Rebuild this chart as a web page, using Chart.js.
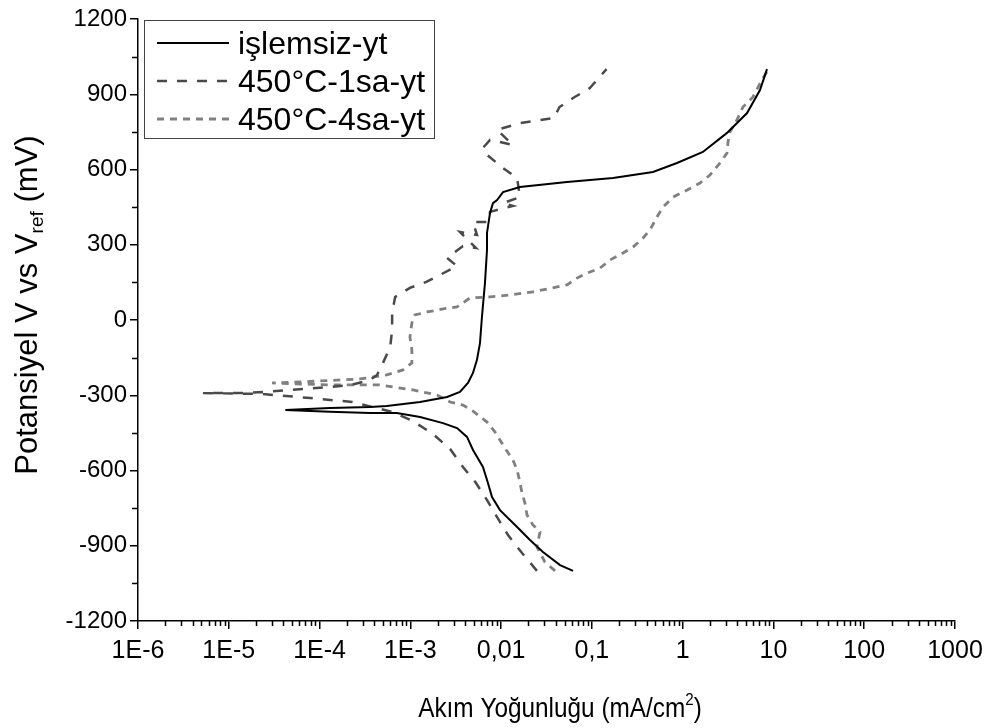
<!DOCTYPE html>
<html>
<head>
<meta charset="utf-8">
<script src="https://cdn.jsdelivr.net/npm/chart.js@4.4.1/dist/chart.umd.min.js"></script>
<style>
    html, body { margin: 0; padding: 0; background: #fff; }
    #contenedor { width: 993px; height: 728px; }
</style>
</head>
<body>
<div id="contenedor"><canvas id="graficoTafel"></canvas></div>
<script>
// Etiquetas de las series y de los ejes
const etiquetas = ['işlemsiz-yt', '450°C-1sa-yt', '450°C-4sa-yt'];
const xTickValores = [1e-6, 1e-5, 1e-4, 1e-3, 1e-2, 1e-1, 1, 10, 100, 1000];
const xTickEtiquetas = ['1E-6', '1E-5', '1E-4', '1E-3', '0,01', '0,1', '1', '10', '100', '1000'];

// işlemsiz-yt (mA/cm2, mV)
const islemsizX = [0.062, 0.0446, 0.0289, 0.0208, 0.0150, 0.00972, 0.00794, 0.00716, 0.00631, 0.00490,
    0.00421, 0.00327, 0.00229, 0.00128, 0.00071, 0.00036, 0.00013, 0.000042, 0.00013, 0.00036,
    0.00055, 0.00128, 0.00254, 0.00352, 0.00431, 0.00490, 0.00542, 0.00585, 0.00615, 0.00664,
    0.00699, 0.00699, 0.00755, 0.00813, 0.00902, 0.0105, 0.0161, 0.0532, 0.171, 0.471,
    0.866, 1.67, 3.08, 5.12, 7.11, 8.49];
const islemsizY = [-1000, -977, -925, -877, -825, -758, -706, -650, -586, -518,
    -466, -431, -411, -387, -371, -371, -366, -359, -351, -347,
    -343, -327, -307, -287, -251, -211, -159, -92, 12, 148,
    279, 347, 427, 466, 478, 510, 530, 550, 566, 590,
    626, 670, 746, 825, 917, 1000];

// 450°C-1sa-yt
const sa1X = [0.0248, 0.017, 0.0119, 0.0090, 0.0070, 0.0052, 0.0038, 0.00274, 0.00178, 0.00107,
    0.00064, 0.00023, 0.000079, 0.000023, 0.0000052, 0.000016, 0.000047, 0.00013, 0.00022, 0.00036,
    0.00043, 0.00050, 0.00060, 0.00063, 0.00063, 0.00068, 0.00099, 0.0015, 0.0021, 0.00327,
    0.00254, 0.0038, 0.00528, 0.00352, 0.00542, 0.0049, 0.00716, 0.00755, 0.0135, 0.0105,
    0.0161, 0.0150, 0.0105, 0.0070, 0.0063, 0.00755, 0.0135, 0.0090, 0.0161, 0.0268,
    0.038, 0.044, 0.062, 0.095, 0.145];
const sa1Y = [-1000, -929, -857, -785, -718, -646, -586, -514, -455, -403,
    -367, -327, -311, -295, -291, -291, -279, -267, -259, -239,
    -219, -171, -108, -40, 28, 92, 128, 152, 179, 215,
    247, 295, 287, 351, 339, 391, 391, 431, 455, 466,
    490, 566, 606, 658, 686, 718, 698, 758, 785, 797,
    805, 849, 885, 925, 1000];

// 450°C-4sa-yt
const sa4X = [0.0393, 0.0304, 0.0248, 0.0268, 0.0224, 0.0193, 0.0183, 0.0170, 0.0161, 0.0150,
    0.0135, 0.0110, 0.00857, 0.0070, 0.0049, 0.0038, 0.00274, 0.00197, 0.00107, 0.00046,
    0.00013, 0.00003, 0.000061, 0.00028, 0.00055, 0.00083, 0.00104, 0.00104, 0.00099, 0.00104,
    0.00112, 0.00153, 0.00229, 0.00327, 0.00454, 0.00755, 0.0125, 0.0224, 0.0532, 0.0686,
    0.0883, 0.123, 0.158, 0.220, 0.284, 0.366, 0.437, 0.521, 0.607, 0.782,
    1.12, 1.55, 2.0, 2.58, 3.08, 3.16, 3.32, 3.96, 4.61, 5.95,
    7.67, 8.49];
const sa4Y = [-1000, -965, -905, -845, -817, -777, -730, -690, -646, -598,
    -558, -510, -447, -407, -363, -339, -327, -299, -279, -259,
    -259, -251, -247, -235, -219, -199, -171, -120, -68, -12,
    20, 32, 44, 52, 88, 92, 100, 112, 140, 167,
    187, 207, 239, 267, 291, 327, 359, 411, 450, 490,
    518, 546, 578, 626, 666, 710, 750, 797, 849, 889,
    965, 989];

const FAMILIA = "'Liberation Sans', Arial, sans-serif";

function unirPuntos(xs, ys) {
    return xs.map((x, i) => ({ x: x, y: ys[i] }));
}

// texto con subindice / superindice, centrado en cx; escX estrecha el texto
function textoRico(ctx, partes, cx, base, tam, escX) {
    ctx.save();
    ctx.translate(cx, base);
    ctx.scale(escX, 1);
    let total = 0;
    const medidas = partes.map(p => {
        const t = p.tipo ? tam * 0.62 : tam;
        ctx.font = t + 'px ' + FAMILIA;
        const w = ctx.measureText(p.texto).width;
        total += w;
        return { texto: p.texto, tipo: p.tipo, t: t, w: w };
    });
    let x = -total / 2;
    medidas.forEach(p => {
        ctx.font = p.t + 'px ' + FAMILIA;
        let dy = 0;
        if (p.tipo === 'sub') dy = tam * 0.2;
        if (p.tipo === 'sup') dy = -tam * 0.42;
        ctx.fillText(p.texto, x, dy);
        x += p.w;
    });
    ctx.restore();
}

const extras = {
    id: 'extras',
    afterDraw(chart) {
        const ctx = chart.ctx;
        const xs = chart.scales.x;
        const ys = chart.scales.y;
        const area = chart.chartArea;

        // ticks menores
        ctx.save();
        ctx.strokeStyle = '#000';
        ctx.lineWidth = 1.5;
        ctx.beginPath();
        for (let v = -1050; v <= 1050; v += 300) {
            const py = Math.round(ys.getPixelForValue(v)) + 0.5;
            ctx.moveTo(area.left - 6, py);
            ctx.lineTo(area.left, py);
        }
        for (let d = -6; d < 3; d++) {
            for (let m = 2; m <= 9; m++) {
                const px = Math.round(xs.getPixelForValue(m * Math.pow(10, d))) + 0.5;
                ctx.moveTo(px, area.bottom);
                ctx.lineTo(px, area.bottom + 5);
            }
        }
        ctx.stroke();

        // titulos de ejes
        ctx.fillStyle = '#000';
        ctx.textAlign = 'left';
        ctx.textBaseline = 'alphabetic';
        textoRico(ctx, [
            { texto: 'Akım Yoğunluğu (mA/cm' },
            { texto: '2', tipo: 'sup' },
            { texto: ')' }
        ], 560, 717, 28, 0.87);

        ctx.save();
        ctx.translate(37, 305);
        ctx.rotate(-Math.PI / 2);
        textoRico(ctx, [
            { texto: 'Potansiyel V vs V' },
            { texto: 'ref', tipo: 'sub' },
            { texto: ' (mV)' }
        ], 0, 0, 31, 1);
        ctx.restore();

        // leyenda
        ctx.strokeStyle = '#444';
        ctx.lineWidth = 1;
        ctx.strokeRect(144.5, 20.5, 290, 118);
        const filas = [43, 81, 119];
        chart.data.datasets.forEach((ds, i) => {
            ctx.beginPath();
            ctx.strokeStyle = ds.borderColor;
            ctx.lineWidth = ds.borderWidth;
            ctx.setLineDash(ds.borderDash || []);
            ctx.moveTo(157, filas[i]);
            ctx.lineTo(229, filas[i]);
            ctx.stroke();
            ctx.setLineDash([]);
            ctx.font = '32px ' + FAMILIA;
            ctx.fillStyle = '#000';
            ctx.fillText(ds.label, 238, filas[i] + 11);
        });
        ctx.restore();
    }
};

const ctx = document.getElementById('graficoTafel').getContext('2d');
new Chart(ctx, {
    type: 'scatter',
    data: {
        datasets: [
            {
                label: etiquetas[0],
                data: unirPuntos(islemsizX, islemsizY),
                showLine: true,
                borderColor: '#000000',
                borderWidth: 2,
                pointRadius: 0,
                tension: 0
            },
            {
                label: etiquetas[1],
                data: unirPuntos(sa1X, sa1Y),
                showLine: true,
                borderColor: '#4a4a4a',
                borderWidth: 2.5,
                borderDash: [10, 10],
                pointRadius: 0,
                tension: 0
            },
            {
                label: etiquetas[2],
                data: unirPuntos(sa4X, sa4Y),
                showLine: true,
                borderColor: '#808080',
                borderWidth: 2.8,
                borderDash: [7, 6],
                pointRadius: 0,
                tension: 0
            }
        ]
    },
    options: {
        responsive: true,
        maintainAspectRatio: false,
        animation: false,
        layout: { padding: { top: 19, right: 38, left: 0, bottom: 0 } },
        plugins: {
            legend: { display: false },
            tooltip: { enabled: false }
        },
        scales: {
            x: {
                type: 'logarithmic',
                min: 1e-6,
                max: 1000,
                afterBuildTicks: scale => {
                    scale.ticks = xTickValores.map(v => ({ value: v }));
                },
                afterFit: scale => { scale.height = 107; },
                border: { display: true, color: '#000', width: 1.5 },
                grid: { drawOnChartArea: false, drawTicks: true, tickLength: 8, color: '#000', lineWidth: 1.5 },
                ticks: {
                    autoSkip: false,
                    maxRotation: 0,
                    padding: 7,
                    color: '#000',
                    font: { family: FAMILIA, size: 25 },
                    callback: (valor, indice) => xTickEtiquetas[indice]
                }
            },
            y: {
                min: -1200,
                max: 1200,
                afterFit: scale => { scale.width = 138; },
                border: { display: true, color: '#000', width: 1.5 },
                grid: { drawOnChartArea: false, drawTicks: true, tickLength: 8, color: '#000', lineWidth: 1.5 },
                ticks: {
                    stepSize: 300,
                    padding: 3,
                    color: '#000',
                    font: { family: FAMILIA, size: 24 },
                    callback: valor => String(valor)
                }
            }
        }
    },
    plugins: [extras]
});
</script>
</body>
</html>
